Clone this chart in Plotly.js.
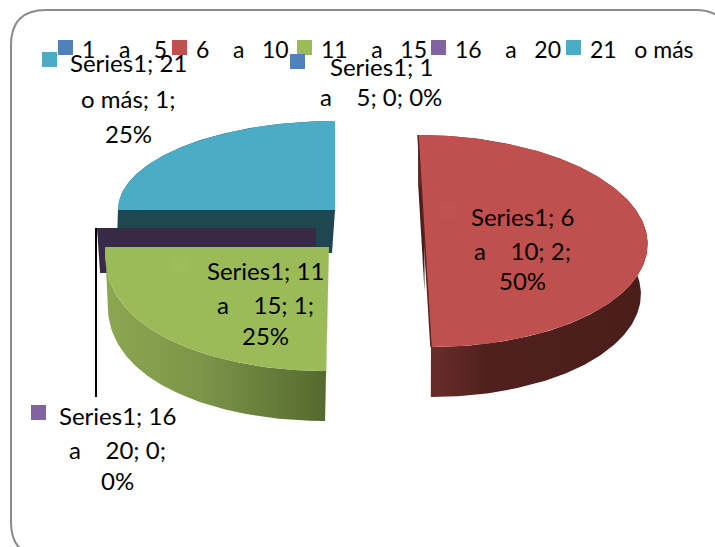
<!DOCTYPE html>
<html><head><meta charset="utf-8">
<script src="https://cdn.plot.ly/plotly-3.0.1.min.js"></script>
<style>html,body{margin:0;padding:0;background:#fff}#c{width:715px;height:547px}</style>
</head><body><div id="c"></div>
<script>
// ---- data ----
const sp = n => '\u00a0'.repeat(n);
const categories = ['1'+sp(4)+'a'+sp(4)+'5','6'+sp(4)+'a'+sp(3)+'10','11'+sp(4)+'a'+sp(3)+'15','16'+sp(4)+'a'+sp(3)+'20','21'+sp(3)+'o m\u00e1s'];
const values = [0, 2, 1, 0, 1];
const seriesName = 'Series1';
// ---- style ----
const topColors  = ['#4f81bd','#c0504d','#9bbb59','#8064a2','#4bacc6'];
const faceColors = ['#2a4562','#4a1d1b','#4e6030','#382a46','#1f4752'];
const wallScales = [
  null,
  [[0,'#6a2d2a'],[0.1,'#652b28'],[0.3,'#4f201e'],[1,'#4a1d1b']],
  [[0,'#8ca851'],[0.45,'#7b9448'],[1,'#55692f']],
  null, null
];
// ---- slice geometry in axis units (pixels) ----
const cxs    = [335, 424.5, 329, 316, 335];
const cys    = [121, 241, 247, 228, 210];
const radA   = [0, 223, 224, 219, 217];
const radB   = [0, 106, 124, 0, 89];
const bulge  = [1, 1, 0.85, 1, 1];
const skews  = [0, 6.5, -3, 0, 0];
const depths = [0, 50, 50, 45, 43];
const shrink = [1, 0.97, 0.985, 0.986, 0.99];
const dropX  = [0, 0, -1, 0, -3];
const drawOrder = [4, 3, 2, 1, 0];
// ---- label layout ----
const labelLines = [
  [seriesName+'; 1', 'a'+sp(4)+'5; 0; 0%'],
  [seriesName+'; 6', 'a'+sp(4)+'10; 2;', '50%'],
  [seriesName+'; 11','a'+sp(4)+'15; 1;', '25%'],
  [seriesName+'; 16','a'+sp(4)+'20; 0;', '0%'],
  [seriesName+'; 21','o m\u00e1s; 1;', '25%']
];
const labelCx = [381, 522, 265, 117, 128];
const labelYs = [[66,96],[216,250,280],[270,304,335],[415,449,480],[62,98,133]];
const labelKeyX = [290, 440, 173, 31, 42];
const labelKeyY = [54, 203, 257, 405, 52];
const labelKeyTint = ['#4f81bd','#c1524f','#9dbc5c','#8064a2','#4bacc6'];
const legendKeyX = [58, 172, 297, 431, 566];
const legendY = 48;
const keySize = 15;

const total = values.reduce((p,q)=>p+q,0);
const traces = [];
function pt(i, deg){
  const t = deg*Math.PI/180, c = Math.cos(t);
  return [cxs[i] + radA[i]*Math.sin(t) - skews[i]*c,
          cys[i] - radB[i]*Math.sign(c)*Math.pow(Math.abs(c), bulge[i])];
}
function low(p,i){
  return [cxs[i] + (p[0]-cxs[i])*shrink[i] + dropX[i], p[1] + depths[i]];
}
function poly(pts, color, grad){
  const tr = {x:pts.map(p=>p[0]), y:pts.map(p=>p[1]), mode:'lines', line:{width:0},
    fill:'toself', fillcolor:color, hoverinfo:'skip', showlegend:false, type:'scatter'};
  if(grad) tr.fillgradient = {type:'horizontal', colorscale:grad};
  traces.push(tr);
}
const starts = [];
values.reduce((acc,v,i)=>{starts[i]=acc; return acc+v/total*360;},0);

drawOrder.forEach(i=>{
  const s = starts[i], span = values[i]/total*360;
  const arc = [];
  const n = Math.max(2, Math.round(span));
  for(let k=0;k<=n;k++) arc.push(pt(i, s+span*k/n));
  const centre = [cxs[i], cys[i]];
  if(depths[i]>0){
    const edge = pt(i, s);
    poly([edge, centre, low(centre,i), low(edge,i), edge], faceColors[i]);
    if(span>0){
      const wall = arc.concat(arc.slice().reverse().map(p=>low(p,i)));
      poly(wall.concat([arc[0]]), faceColors[i], wallScales[i]);
      poly([centre].concat(arc,[centre]), topColors[i]);
    }
  }
  if(i===1){
    const a = pt(i, s), b = pt(i, s+span);
    traces.push({x:[a[0],b[0]], y:[a[1],b[1]], mode:'lines', line:{width:1.5,color:'#5a2422'},
      hoverinfo:'skip', showlegend:false, type:'scatter'});
  }
});

const shapes = [], annotations = [];
shapes.push({type:'path', xref:'x', yref:'y', layer:'below',
  path:'M 11 45 Q 11 10 46 10 L 695 10 Q 730 10 730 45 L 730 522 Q 730 557 695 557 L 46 557 Q 11 557 11 522 Z',
  line:{color:'#8c8c8c', width:2}, fillcolor:'rgba(0,0,0,0)'});
function key(x,y,color){
  shapes.push({type:'rect', xref:'x', yref:'y', x0:x, x1:x+keySize, y0:y, y1:y+keySize,
    line:{width:0}, fillcolor:color});
}
function text(x,y,t,anchor,size){
  annotations.push({xref:'x', yref:'y', x:x, y:y, text:t, showarrow:false,
    xanchor:anchor||'center', yanchor:'middle', font:{family:'Lato, Carlito, sans-serif', size:size, color:'#000'}});
}
categories.forEach((c,i)=>{
  key(legendKeyX[i], legendY-8, topColors[i]);
  text(legendKeyX[i]+keySize+7, legendY+1, c, 'left', 23);
});
labelLines.forEach((lines,i)=>{
  key(labelKeyX[i], labelKeyY[i], labelKeyTint[i]);
  lines.forEach((l,j)=>text(labelCx[i], labelYs[i][j], l, 'center', 24));
});
shapes.push({type:'line', xref:'x', yref:'y', x0:96, x1:96, y0:228, y1:397, line:{color:'#000', width:2}});

const hidden = {visible:false, fixedrange:true};
Plotly.newPlot('c', traces, {
  width:715, height:547, margin:{l:0,r:0,t:0,b:0}, showlegend:false,
  paper_bgcolor:'#fff', plot_bgcolor:'#fff',
  xaxis:Object.assign({range:[0,715]},hidden),
  yaxis:Object.assign({range:[547,0]},hidden),
  shapes:shapes, annotations:annotations
}, {displayModeBar:false, staticPlot:true});
</script></body></html>
